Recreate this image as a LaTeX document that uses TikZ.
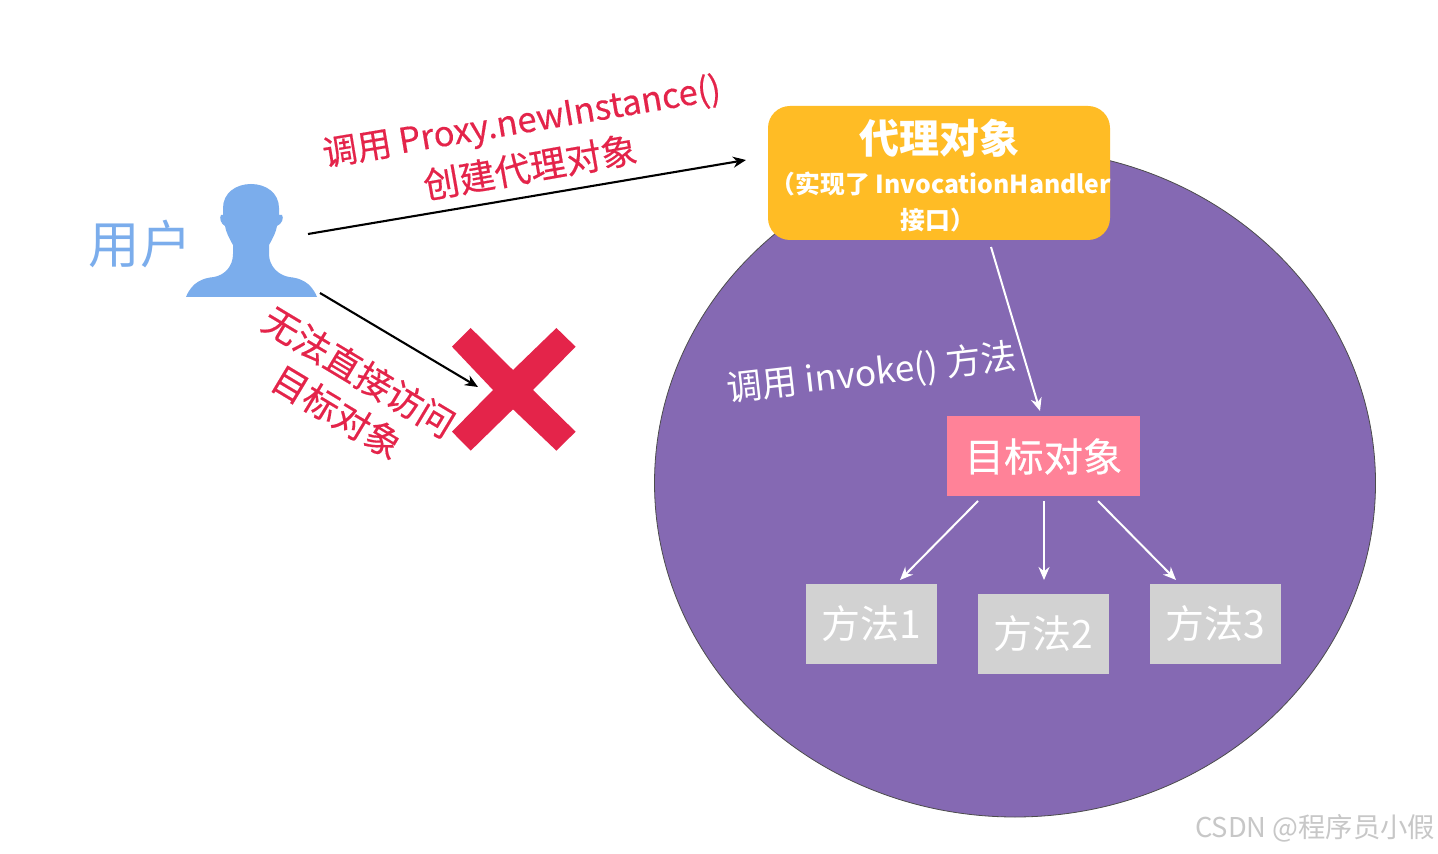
\documentclass[tikz,border=0pt]{standalone}
\usepackage{fontspec}
\setmainfont{Noto Sans CJK SC}
\newfontfamily\medfont[FakeBold=0.4]{Noto Sans CJK SC}
\usetikzlibrary{arrows.meta,shapes.geometric}
\definecolor{purplebg}{HTML}{8569B3}
\definecolor{proxyc}{HTML}{FFBC25}
\definecolor{targetc}{HTML}{FF8298}
\definecolor{methodc}{HTML}{D2D2D2}
\definecolor{userc}{HTML}{7BADEC}
\definecolor{redc}{HTML}{E4244A}
\newcommand{\fs}[1]{\fontsize{#1}{#1}\selectfont}
\tikzset{
  txt/.style={inner sep=0pt,outer sep=0pt,align=center},
  blackarrow/.style={draw=black,line width=1.05pt,-{Stealth[length=6.5pt,width=5.5pt]}},
  whitearrow/.style={draw=white,line width=1pt,-{Stealth[length=6.5pt,width=5.5pt]}},
  methodbox/.style={fill=methodc,draw=none,minimum width=65.5pt,minimum height=40pt,inner sep=0pt,text=white,font=\fs{19.5}},
  redtxt/.style={txt,text=redc,font=\medfont\fs{18}},
}
\begin{document}
\begin{tikzpicture}[x=0.5pt,y=-0.5pt]
\useasboundingbox (0,0) rectangle (1438,854);
\fill[white] (0,0) rectangle (1438,854);
% large circle
\node[draw=black!70,line width=0.4pt,fill=purplebg,ellipse,inner sep=0pt,minimum width=360.5pt,minimum height=334pt] (circle) at (1015,483) {};
% proxy
\node[fill=proxyc,rounded corners=11pt,minimum width=171pt,minimum height=67pt,inner sep=0pt] (proxy) at (939,173) {};
\node[txt,text=white,font=\fs{20}\bfseries] (p1) at (939,138) {代理对象};
\node[txt,text=white,font=\fs{12.4}\bfseries] (p2) at (941,184) {（实现了 InvocationHandler};
\node[txt,text=white,font=\fs{12.4}\bfseries] (p3) at (938,220) {接口）};
% target
\node[fill=targetc,minimum width=96.5pt,minimum height=40pt,inner sep=0pt,text=white,font=\medfont\fs{19.7}] (target) at (1043.5,456.5) {目标对象};
% methods
\node[methodbox] (m1) at (871.5,623.5) {方法1};
\node[methodbox] (m2) at (1043.5,633.5) {方法2};
\node[methodbox] (m3) at (1215.5,623.5) {方法3};
% user
\fill[userc] (186,297)
 .. controls (192,282) and (203,278) .. (214,277)
 .. controls (225,275) and (233,266) .. (233,254)
 -- (233,245)
 .. controls (229,238) and (226,232) .. (225,226)
 .. controls (221,224) and (219,218) .. (221,215)
 -- (223,215) -- (223,208)
 .. controls (223,193) and (236,184) .. (251,184)
 .. controls (266,184) and (279,193) .. (279,208)
 -- (279,215) -- (282,215)
 .. controls (284,218) and (282,224) .. (277,226)
 .. controls (276,232) and (273,238) .. (269,245)
 -- (269,254)
 .. controls (269,266) and (278,275) .. (289,277)
 .. controls (300,278) and (311,282) .. (317,297) -- cycle;
\node[inner sep=0pt,minimum width=65pt,minimum height=56pt] (user) at (251,240) {};
\node[txt,text=userc,font=\fs{25.7}] (ulabel) at (140,244) {用户};
% cross
\fill[redc] (470.7,328) -- (513,370) -- (556.4,328) -- (575.6,346.7) -- (533,390) -- (575.6,431.7) -- (556.4,450.7) -- (513,409.3) -- (470.7,450.7) -- (452,431.7) -- (493,390) -- (452,346.7) -- cycle;
\node[inner sep=0pt,minimum width=62pt,minimum height=62pt] (cross) at (514,390) {};
% labels
\node[redtxt,rotate=9.5,font=\medfont\fs{17.3}] (l1) at (522,123) {调用 Proxy.newInstance()};
\node[redtxt,rotate=10] (l2) at (530,167) {创建代理对象};
\node[redtxt,rotate=-31] (l3) at (359,372) {无法直接访问};
\node[redtxt,rotate=-31] (l4) at (337,412) {目标对象};
\node[txt,text=white,font=\fs{17.7},rotate=6.5] (l5) at (872,374) {调用 invoke() 方法};
% connector end points
\coordinate (a1) at (308,234);
\coordinate (a2) at (746,160);
\coordinate (b1) at (320,293);
\coordinate (b2) at (478,387);
\coordinate (c1) at (991,247);
\coordinate (c2) at (1040,411);
\coordinate (d1) at (978,501);
\coordinate (d2) at (900,580);
\coordinate (e1) at (1044,501);
\coordinate (e2) at (1044,580);
\coordinate (f1) at (1098,501);
\coordinate (f2) at (1176,580);
\draw[blackarrow] (a1) -- (a2);
\draw[blackarrow] (b1) -- (b2);
\draw[whitearrow] (c1) -- (c2);
\draw[whitearrow] (d1) -- (d2);
\draw[whitearrow] (e1) -- (e2);
\draw[whitearrow] (f1) -- (f2);
% watermark
\node[txt,text=black!22,font=\fs{13.65},anchor=east] (wm) at (1435,828) {CSDN @程序员小假};
\end{tikzpicture}
\end{document}
